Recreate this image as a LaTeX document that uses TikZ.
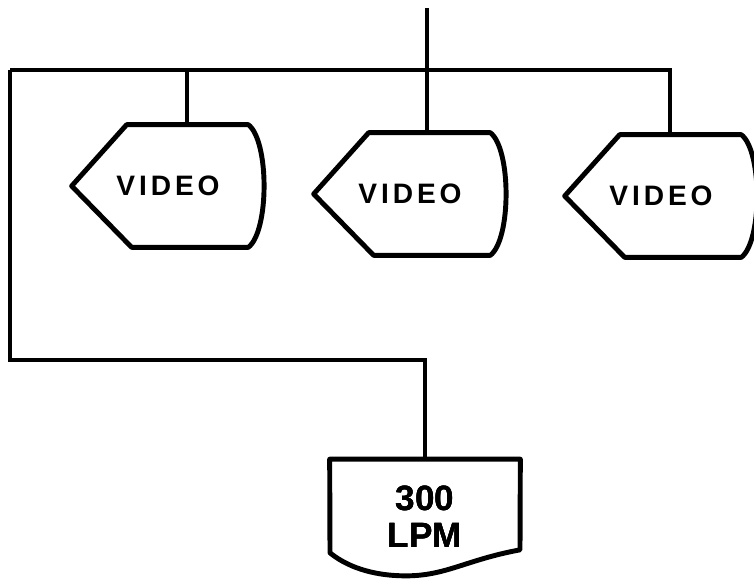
\documentclass[tikz,border=0pt]{standalone}
\usepackage{fontspec}
\setmainfont{Liberation Sans}
\newfontfamily\vidfont[LetterSpace=14]{Liberation Sans}
\usetikzlibrary{calc,positioning}
\tikzset{
  disp/.style={minimum width=3.84cm,minimum height=2.44cm,inner sep=0pt,font=\vidfont\bfseries\fontsize{16}{18}\selectfont},
  prn/.style={minimum width=3.8cm,minimum height=2.3cm,inner sep=0pt,align=center,font=\bfseries\fontsize{20}{21}\selectfont},
  shp/.style={line width=2.8pt,line join=round},
  wire/.style={line width=2pt}
}
% display outline, drawn round a named node
\newcommand{\vidshape}[1]{\draw[shp] ($(#1.north west)+(55,0)$) -- ($(#1.north east)+(-16,0)$) .. controls ($(#1.east)+(5,-45)$) and ($(#1.east)+(5,45)$) .. ($(#1.south east)+(-16,0)$) -- ($(#1.south west)+(60,0)$) -- (#1.west) -- cycle;}

\begin{document}
\begin{tikzpicture}[x=0.02cm,y=-0.02cm]
\useasboundingbox (0,0) rectangle (754,579);
\node[disp] (vid1) at (168,186) {VIDEO};
\node[disp] (vid2) at (410,194) {VIDEO};
\node[disp] (vid3) at (661,196) {VIDEO};
\foreach \n in {vid1,vid2,vid3} \vidshape{\n}
\node[prn] (lpm) at (425,517) {300\\LPM};
\draw[shp] (lpm.north west) -- (lpm.north east) -- ($(lpm.south)+(95,-25)$) .. controls ($(lpm.south)+(41,-15)$) and ($(lpm.south)+(21,1)$) .. ($(lpm.south)+(-19,1)$) .. controls ($(lpm.south)+(-54,1)$) and ($(lpm.south)+(-79,-9)$) .. ($(lpm.south)+(-95,-22)$) -- cycle;
\coordinate (feed) at (427,8);
\coordinate (busL) at (10,70);
\coordinate (busR) at (670,70);
\coordinate (tap1) at (187,70);
\coordinate (bend) at (10,360);
\draw[wire] (feed) -- (feed |- vid2.north);
\draw[wire] (busL) -- (busR) -- (busR |- vid3.north);
\draw[wire] (tap1) -- (tap1 |- vid1.north);
\draw[wire] (busL) -- (bend) -| (lpm.north);
\end{tikzpicture}
\end{document}
